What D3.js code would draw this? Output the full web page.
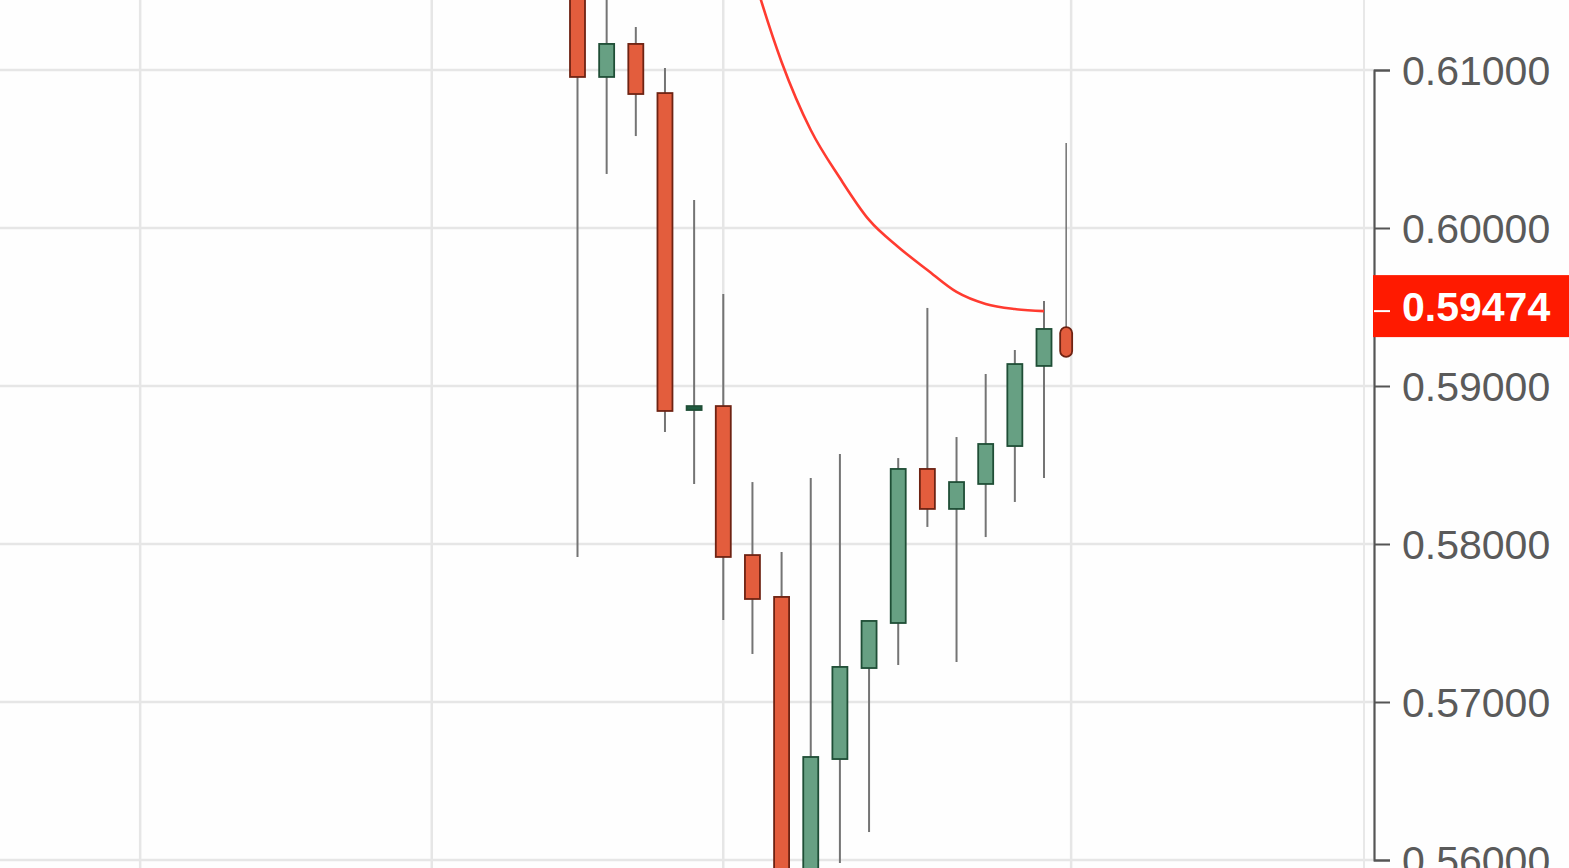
<!DOCTYPE html>
<html>
<head>
<meta charset="utf-8">
<script src="https://cdn.jsdelivr.net/npm/d3@7"></script>
<style>
  html, body { margin: 0; padding: 0; background: #fefefe; }
  svg { display: block; }
</style>
</head>
<body>
<svg id="chart" width="1569" height="868"></svg>
<script>
// ---- data ----
const barIndex = [0, 1, 2, 3, 4, 5, 6, 7, 8, 9, 10, 11, 12, 13, 14, 15, 16, 16.76];
const openVals  = [0.6150, 0.60956, 0.61165, 0.60854, 0.58848, 0.58873, 0.5793, 0.57665, 0.5520, 0.56639, 0.57215, 0.5750, 0.58475, 0.58222, 0.5838, 0.5862, 0.59127, 0.59373];
const highVals  = [0.6170, 0.6160, 0.61272, 0.61013, 0.60177, 0.59582, 0.58392, 0.57949, 0.58418, 0.5857, 0.57513, 0.58544, 0.59494, 0.58677, 0.59076, 0.59228, 0.59538, 0.60538];
const lowVals   = [0.57918, 0.60342, 0.60582, 0.58709, 0.5838, 0.57519, 0.57304, 0.5480, 0.5490, 0.55981, 0.56177, 0.57234, 0.58108, 0.57253, 0.58044, 0.58266, 0.58418, 0.59184];
const closeVals = [0.60956, 0.61165, 0.60848, 0.58842, 0.58873, 0.57918, 0.57652, 0.5520, 0.56652, 0.57222, 0.57513, 0.58475, 0.58222, 0.58392, 0.58633, 0.59139, 0.59361, 0.59184];

const maIndex  = [5, 6, 7, 8, 9, 10, 11, 12, 13, 14, 15, 16];
const maVals   = [0.6229, 0.6162, 0.61051, 0.6062, 0.60316, 0.60051, 0.5988, 0.59734, 0.59595, 0.59519, 0.59487, 0.59474];

const priceTicks = [0.56, 0.57, 0.58, 0.59, 0.60, 0.61];
const timeGrid   = [-15, -5, 5, 16.93];
const lastPrice  = 0.59474;

// ---- layout ----
const W = 1569, H = 868;
const axisX = 1374;
const svg = d3.select("#chart");

const x = d3.scaleLinear().domain([0, 16]).range([577.5, 1044]);
const y = d3.scaleLinear().domain([0.56, 0.61]).range([860, 70]);

svg.append("rect").attr("width", W).attr("height", H).attr("fill", "#fefefe");

svg.append("defs").append("clipPath").attr("id", "plot")
  .append("rect").attr("x", 0).attr("y", 0).attr("width", axisX - 1).attr("height", H);

// grid
const grid = svg.append("g").attr("clip-path", "url(#plot)");
grid.selectAll("line.h").data(priceTicks).join("line")
  .attr("x1", 0).attr("x2", axisX)
  .attr("y1", d => y(d)).attr("y2", d => y(d))
  .attr("stroke", "#e6e6e6").attr("stroke-width", 2.5);
grid.selectAll("line.v").data(timeGrid).join("line")
  .attr("x1", d => x(d)).attr("x2", d => x(d))
  .attr("y1", 0).attr("y2", H)
  .attr("stroke", "#e6e6e6").attr("stroke-width", 2.5);

// light line left of the axis
svg.append("line").attr("x1", 1364).attr("x2", 1364).attr("y1", 0).attr("y2", H)
  .attr("stroke", "#e8e8e8").attr("stroke-width", 2);

// candles
const candles = barIndex.map((t, i) => ({
  t, o: openVals[i], h: highVals[i], l: lowVals[i], c: closeVals[i], last: i === barIndex.length - 1
}));
const plot = svg.append("g").attr("clip-path", "url(#plot)");

plot.selectAll("line.wick").data(candles).join("line")
  .attr("x1", d => x(d.t)).attr("x2", d => x(d.t))
  .attr("y1", d => y(d.h)).attr("y2", d => y(d.l))
  .attr("stroke", d => d.last ? "#666" : "#747474")
  .attr("stroke-width", d => d.last ? 1.4 : 2);

const bodyW = 15;
plot.selectAll("rect.body").data(candles).join("rect")
  .attr("x", d => x(d.t) - (d.last ? 6 : bodyW / 2))
  .attr("width", d => d.last ? 12 : bodyW)
  .attr("y", d => y(Math.max(d.o, d.c)))
  .attr("height", d => Math.max(3, Math.abs(y(d.o) - y(d.c))))
  .attr("rx", d => d.last ? 6 : 0)
  .attr("fill", d => d.c >= d.o ? (Math.abs(d.c - d.o) < 0.0005 ? "#1f5a40" : "#67a083") : "#e35d3d")
  .attr("stroke", d => d.c >= d.o ? "#1f4e36" : "#6e2313")
  .attr("stroke-width", 1.8);

// moving average line
const maLine = d3.line().x(d => x(d[0])).y(d => y(d[1])).curve(d3.curveMonotoneX);
plot.append("path")
  .datum(maIndex.map((t, i) => [t, maVals[i]]))
  .attr("d", maLine)
  .attr("fill", "none")
  .attr("stroke", "#ff3b30")
  .attr("stroke-width", 2.6)
  .attr("stroke-linejoin", "round");

// price axis
const axis = d3.axisRight(y).tickValues(priceTicks).tickSize(16).tickPadding(12)
  .tickFormat(d3.format(".5f"));
const ag = svg.append("g").attr("transform", `translate(${axisX},0)`).call(axis);
ag.select(".domain").attr("stroke", "#555").attr("stroke-width", 2.2);
ag.selectAll(".tick line").attr("stroke", "#555").attr("stroke-width", 2);
ag.selectAll(".tick text")
  .attr("fill", "#5a5a5a")
  .attr("font-family", "'Liberation Sans', Arial, sans-serif")
  .attr("font-size", 41)
  .attr("dy", "0.35em");

// last price label
const lp = svg.append("g");
lp.append("rect").attr("x", axisX - 1).attr("y", y(lastPrice) - 36)
  .attr("width", W - axisX + 1).attr("height", 62).attr("fill", "#ff1a00");
lp.append("line").attr("x1", axisX).attr("x2", axisX + 16)
  .attr("y1", y(lastPrice)).attr("y2", y(lastPrice))
  .attr("stroke", "#ffffff").attr("stroke-width", 2);
lp.append("text").attr("x", axisX + 28).attr("y", y(lastPrice) - 4)
  .attr("dy", "0.35em")
  .attr("fill", "#ffffff")
  .attr("font-family", "'Liberation Sans', Arial, sans-serif")
  .attr("font-weight", "bold")
  .attr("font-size", 41)
  .text(d3.format(".5f")(lastPrice));
</script>
</body>
</html>
